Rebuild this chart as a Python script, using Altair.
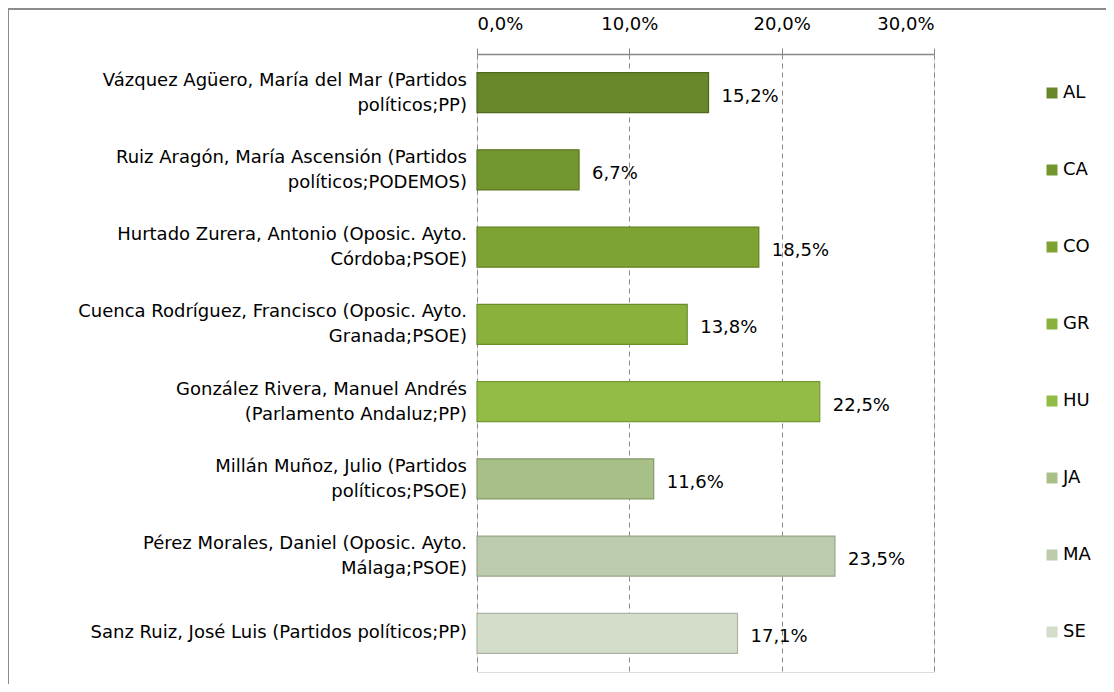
import altair as alt
import pandas as pd

names = [
    "Vázquez Agüero, María del Mar (Partidos|políticos;PP)",
    "Ruiz Aragón, María Ascensión (Partidos|políticos;PODEMOS)",
    "Hurtado Zurera, Antonio (Oposic. Ayto.|Córdoba;PSOE)",
    "Cuenca Rodríguez, Francisco (Oposic. Ayto.|Granada;PSOE)",
    "González Rivera, Manuel Andrés|(Parlamento Andaluz;PP)",
    "Millán Muñoz, Julio (Partidos|políticos;PSOE)",
    "Pérez Morales, Daniel (Oposic. Ayto.|Málaga;PSOE)",
    "Sanz Ruiz, José Luis (Partidos políticos;PP)",
]
provinces = ["AL", "CA", "CO", "GR", "HU", "JA", "MA", "SE"]
values = [0.152, 0.067, 0.185, 0.138, 0.225, 0.116, 0.235, 0.171]
x_ticks = [0.0, 0.1, 0.2, 0.3]

fills = ["#67872a", "#74962e", "#7ea333", "#89b13b", "#93bc46", "#a8bf88", "#bdcbad", "#d3ddc9"]
strokes = ["#4e6a1c", "#587620", "#618224", "#6a8e2a", "#739832", "#869a68", "#9aa78a", "#aab4a0"]

df = pd.DataFrame({"name": names, "prov": provinces, "value": values})

FONT = "DejaVu Sans"
FS = 18
W, H = 457, 618

y_enc = alt.Y("name:N", sort=names, title=None,
              scale=alt.Scale(paddingInner=0.48, paddingOuter=0.24),
              axis=alt.Axis(labels=False, tickSize=6, tickColor="#888888",
                            domainColor="#888888", domainWidth=1.5, tickBand="extent",
                            grid=False))
x_enc = alt.X("value:Q", title=None,
              scale=alt.Scale(domain=[0, 0.3], nice=False, zero=True),
              axis=alt.Axis(orient="top", values=x_ticks, format=".1%",
                            labelExpr="replace(datum.label, '.', ',')",
                            labelFont=FONT, labelFontSize=FS, labelColor="#000000",
                            labelPadding=15, tickSize=6, tickColor="#888888",
                            domainColor="#888888", domainWidth=1.5,
                            grid=True, gridColor="#888888", gridDash=[5, 4], gridWidth=1))

bars = alt.Chart(df).mark_bar(strokeWidth=1.2).encode(
    y=y_enc,
    x=x_enc,
    color=alt.Color("prov:N", sort=provinces,
                    scale=alt.Scale(domain=provinces, range=fills),
                    legend=alt.Legend(title=None, orient="none", legendX=566, legendY=30,
                                      symbolType="square", symbolSize=121,
                                      symbolStrokeWidth=0,
                                      labelFont=FONT, labelFontSize=FS, labelColor="#000000",
                                      rowPadding=59, padding=0, labelOffset=2)),
    stroke=alt.Stroke("prov:N", scale=alt.Scale(domain=provinces, range=strokes), legend=None),
)

labels = alt.Chart(df).transform_calculate(
    lbl="replace(format(datum.value, '.1%'), '.', ',')"
).mark_text(align="left", baseline="middle", dx=13, dy=4, font=FONT, fontSize=FS,
            color="#000000").encode(
    y=alt.Y("name:N", sort=names, axis=None),
    x="value:Q",
    text="lbl:N",
)

cat_two = alt.Chart(df).transform_filter("indexof(datum.name, '|') >= 0").mark_text(
    align="right", baseline="middle", dy=-12, lineBreak="|", lineHeight=25,
    font=FONT, fontSize=FS, color="#000000"
).encode(y=alt.Y("name:N", sort=names, axis=None), x=alt.value(-10), text="name:N")

cat_one = alt.Chart(df).transform_filter("indexof(datum.name, '|') < 0").mark_text(
    align="right", baseline="middle", dy=0,
    font=FONT, fontSize=FS, color="#000000"
).encode(y=alt.Y("name:N", sort=names, axis=None), x=alt.value(-10), text="name:N")

frame = alt.Chart(alt.Data(values=[{}])).mark_rect(
    fillOpacity=0, stroke="#8c8c8c", strokeWidth=2
).encode(x=alt.value(-469), x2=alt.value(900), y=alt.value(-45), y2=alt.value(900))

chart = alt.layer(bars, labels, cat_two, cat_one, frame).properties(
    width=W, height=H,
    autosize=alt.AutoSizeParams(type="none"),
    padding={"left": 469, "top": 46, "right": 172, "bottom": 12},
).configure_view(stroke=None).configure(background="#ffffff")

chart.save("out.html", embed_options={"renderer": "svg", "actions": False})
